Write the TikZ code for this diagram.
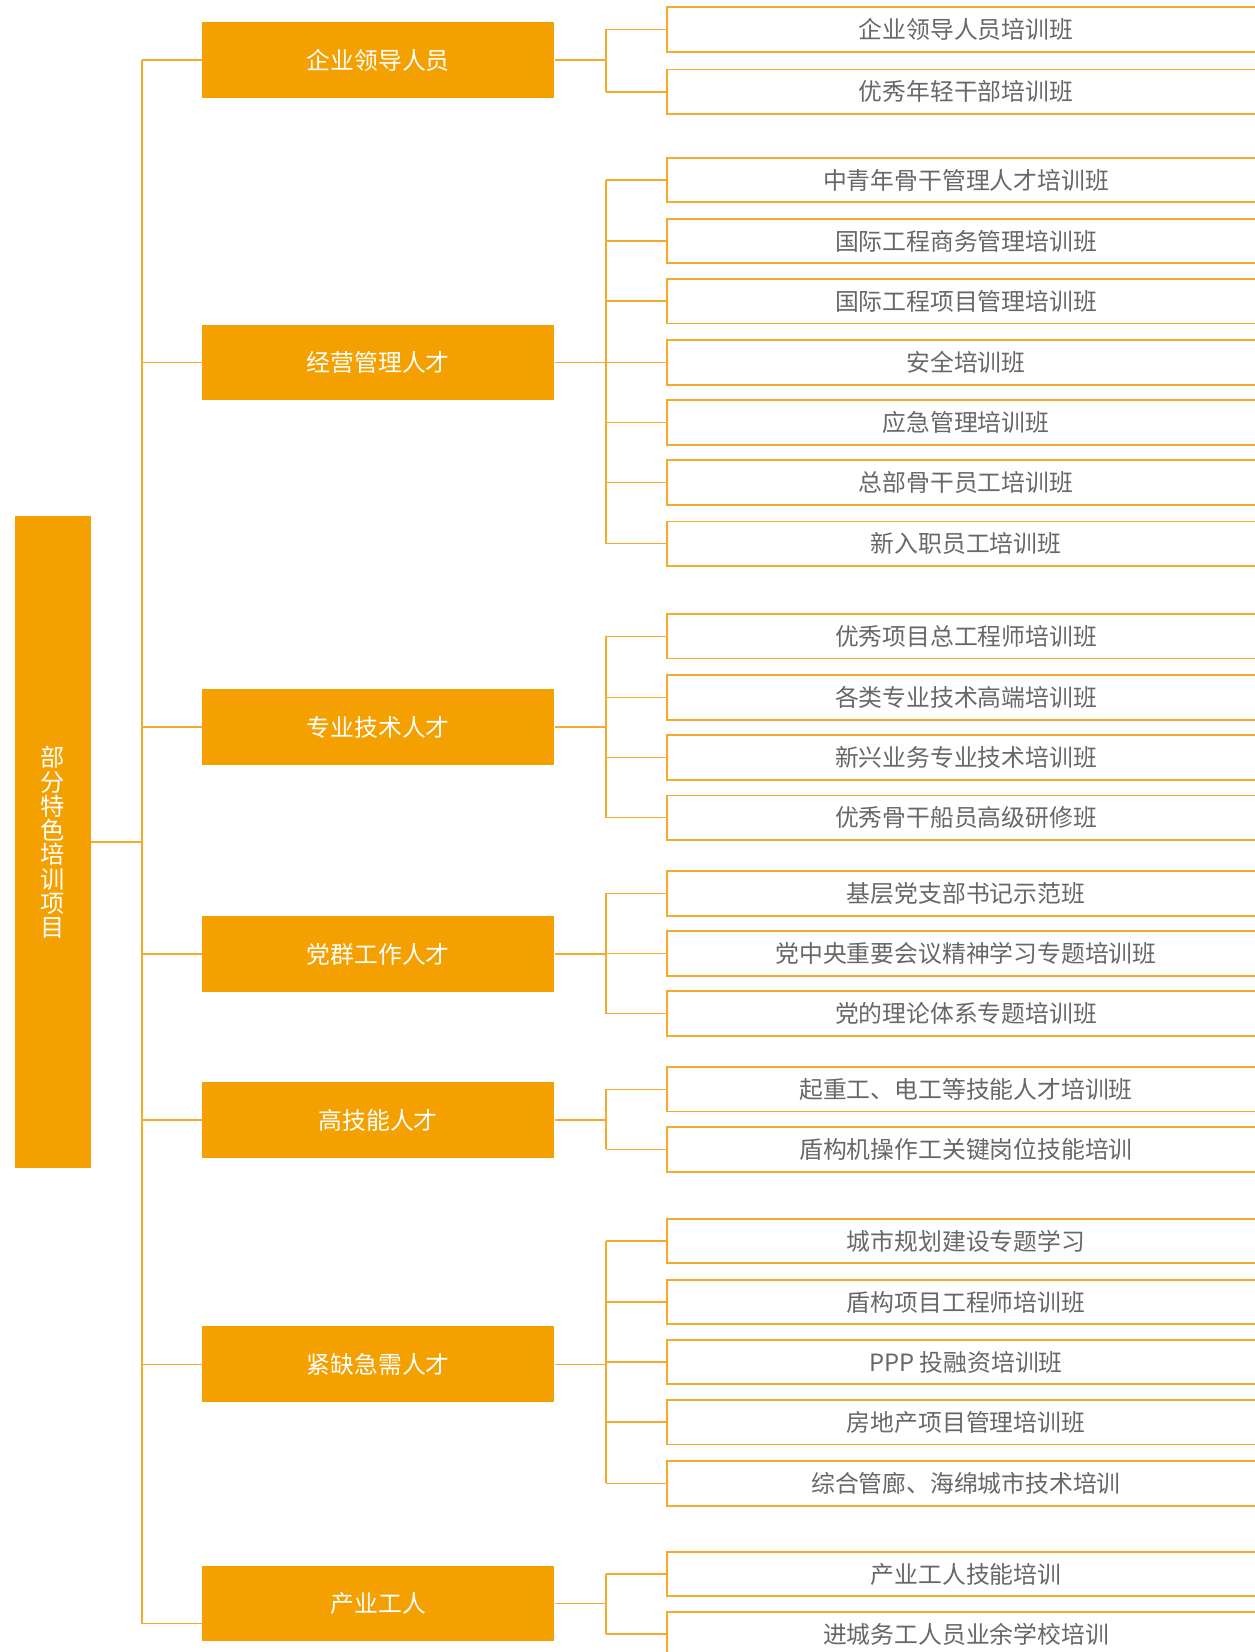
\documentclass[tikz,border=0pt]{standalone}
\usepackage{fontspec}
\newfontfamily\cjk{Noto Sans CJK SC}
\definecolor{org}{HTML}{F4A000}
\definecolor{lineorg}{HTML}{F6AA2C}
\definecolor{txtgray}{HTML}{676767}
\begin{document}
\begin{tikzpicture}[x=0.5pt,y=-0.5pt,
  rootbox/.style={fill=org, minimum width=36pt, minimum height=309.5pt, inner sep=0pt, text=white, align=center, font=\cjk\fontsize{11.5}{11.5}\selectfont},
  catbox/.style={fill=org, minimum width=167pt, minimum height=36pt, inner sep=0pt, text=white, font=\cjk\fontsize{11.3}{13}\selectfont},
  itembox/.style={draw=lineorg, line width=0.9pt, minimum width=284pt, minimum height=21pt, inner sep=0pt, anchor=west, text=txtgray, font=\cjk\fontsize{11.3}{13}\selectfont},
  link/.style={draw=lineorg, line width=0.8pt}]
\useasboundingbox (0,0) rectangle (1191,1568);

% root
\node[rootbox] (root) at (50,799.5) {部\\分\\特\\色\\培\\训\\项\\目};

% categories
\node[catbox] (l1) at (359,57) {企业领导人员};
\node[catbox] (l2) at (359,344) {经营管理人才};
\node[catbox] (l3) at (359,690) {专业技术人才};
\node[catbox] (l4) at (359,905.5) {党群工作人才};
\node[catbox] (l5) at (359,1063) {高技能人才};
\node[catbox] (l6) at (359,1295) {紧缺急需人才};
\node[catbox] (l7) at (359,1522) {产业工人};

% helper coordinates
\coordinate (tx) at (135,0);
\coordinate (bx) at (575,0);
\coordinate (c7) at (135,1541);

% items
\foreach \n/\y/\t in {
  r11/28/企业领导人员培训班,
  r12/87/优秀年轻干部培训班,
  r21/171/中青年骨干管理人才培训班,
  r22/229/国际工程商务管理培训班,
  r23/286/国际工程项目管理培训班,
  r24/344/安全培训班,
  r25/401/应急管理培训班,
  r26/458/总部骨干员工培训班,
  r27/516/新入职员工培训班,
  r31/604/优秀项目总工程师培训班,
  r32/662/各类专业技术高端培训班,
  r33/719/新兴业务专业技术培训班,
  r34/776/优秀骨干船员高级研修班,
  r41/848/基层党支部书记示范班,
  r42/905/党中央重要会议精神学习专题培训班,
  r43/962/党的理论体系专题培训班,
  r51/1034/起重工、电工等技能人才培训班,
  r52/1091/盾构机操作工关键岗位技能培训,
  r61/1178/城市规划建设专题学习,
  r62/1236/盾构项目工程师培训班,
  r63/1293/PPP 投融资培训班,
  r64/1350/房地产项目管理培训班,
  r65/1408/综合管廊、海绵城市技术培训,
  r71/1494/产业工人技能培训,
  r72/1551/进城务工人员业余学校培训}{
  \node[itembox] (\n) at (632,\y) {\t};
  \draw[link] (\n.west -| bx) -- (\n.west);
}

% brackets from categories to items
\foreach \g/\a/\b in {1/r11/r12, 2/r21/r27, 3/r31/r34, 4/r41/r43, 5/r51/r52, 6/r61/r65, 7/r71/r72}{
  \draw[link] (l\g.east) -- (l\g.east -| bx);
  \draw[link] (\a.west -| bx) -- (\b.west -| bx);
}

% trunk
\draw[link] (root.east) -- (root.east -| tx);
\draw[link] (l1.west -| tx) -- (c7) -- (c7 -| l7.west);
\foreach \i in {1,...,6}{
  \draw[link] (l\i.west -| tx) -- (l\i.west);
}
\end{tikzpicture}
\end{document}
